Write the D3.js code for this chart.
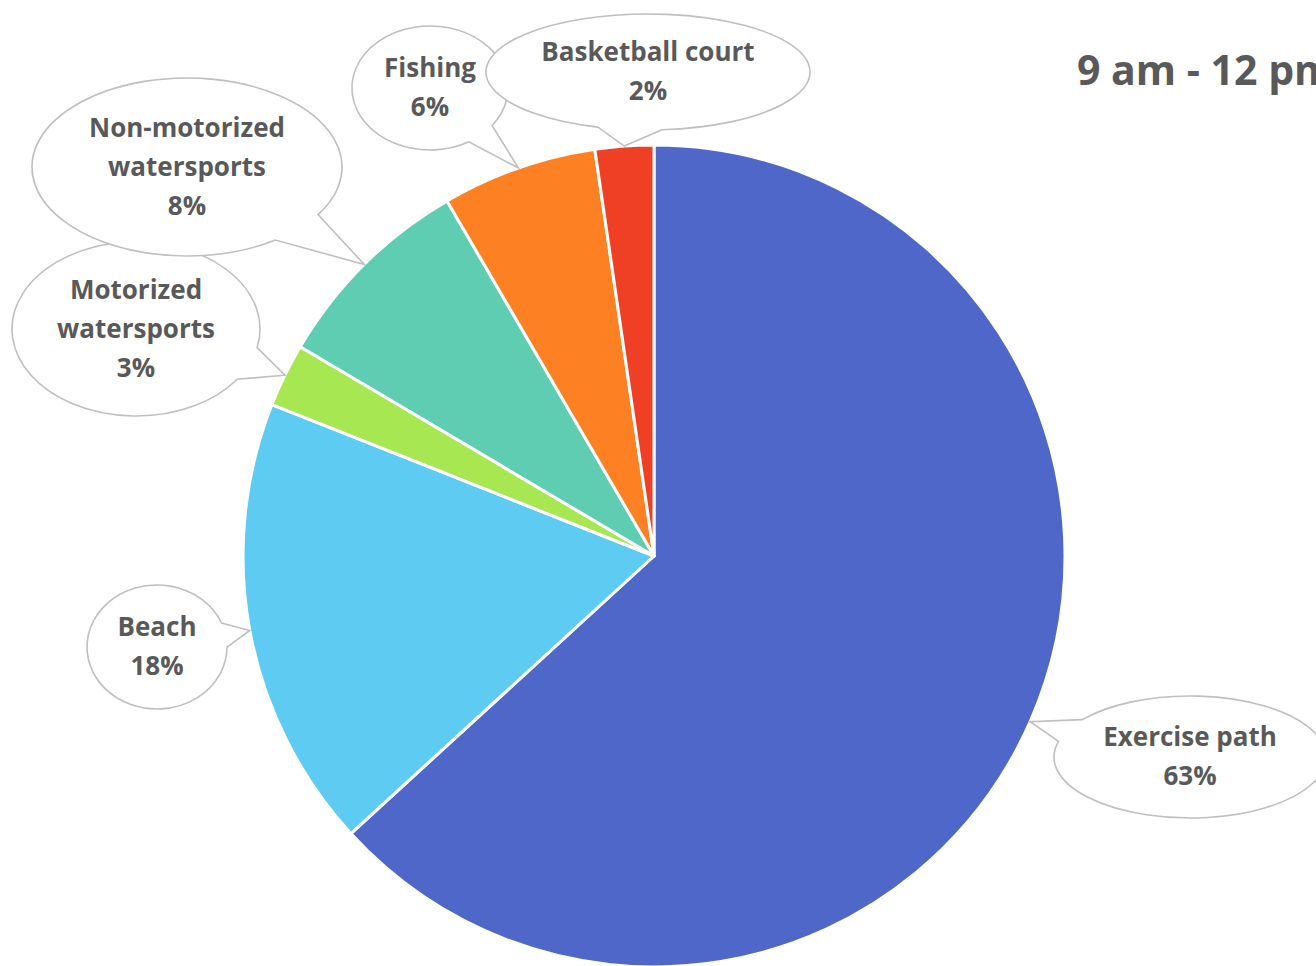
<!DOCTYPE html>
<html><head><meta charset="utf-8">
<script src="https://cdn.jsdelivr.net/npm/d3@7"></script>
<style>html,body{margin:0;padding:0;background:#fff;overflow:hidden}</style>
</head><body>
<svg id="chart" width="1316" height="966"></svg>
<script>
// ---- data ----
const categories = ["Exercise path", "Beach", "Motorized\nwatersports", "Non-motorized\nwatersports", "Fishing", "Basketball court"];
const values = [63.2, 17.8, 2.5, 8.1, 6.1, 2.3];
const pctLabels = ["63%", "18%", "3%", "8%", "6%", "2%"];
const colors = ["#4f67c8", "#5ecbf2", "#a6e752", "#5ecdb1", "#fd8122", "#ef4026"];
const title = "9 am - 12 pm";

// ---- layout (bubble ellipses: cx, cy, rx, ry) ----
const bubbles = [
  [1190, 757, 136, 61],
  [157, 647, 70, 62],
  [136, 329, 124, 87],
  [187, 167, 155, 89],
  [430, 88, 78, 62],
  [648, 72, 162, 58]
];

const svg = d3.select("#chart");
const cx = 654, cy = 556, R = 411;
const FONT = "'Open Sans', 'Noto Sans', sans-serif";

const pie = d3.pie().sort(null).value(d => d.v).startAngle(0);
const data = categories.map((c, i) => ({c, v: values[i], p: pctLabels[i], col: colors[i], b: bubbles[i]}));
const arcs = pie(data);
const arc = d3.arc().innerRadius(0).outerRadius(R);
const edge = d3.arc().innerRadius(R).outerRadius(R);

const g = svg.append("g").attr("transform", `translate(${cx},${cy})`);
g.selectAll("path.slice").data(arcs).join("path")
  .attr("class", "slice")
  .attr("d", arc)
  .attr("fill", d => d.data.col)
  .attr("stroke", "#fff")
  .attr("stroke-width", 3)
  .attr("stroke-linejoin", "round");

// ---- callouts ----
const lab = svg.append("g");
arcs.forEach(d => {
  const [bx, by, rx, ry] = d.data.b;
  const m = (d.startAngle + d.endAngle) / 2;
  const tip = edge.centroid({startAngle: m, endAngle: m});
  const tx = tip[0] + cx, ty = tip[1] + cy;
  const t = Math.atan2((ty - by) / ry, (tx - bx) / rx);
  const del = 0.2;
  const p1 = [bx + rx * Math.cos(t - del), by + ry * Math.sin(t - del)];
  const p2 = [bx + rx * Math.cos(t + del), by + ry * Math.sin(t + del)];
  const path = `M${p1[0]},${p1[1]}L${tx},${ty}L${p2[0]},${p2[1]}A${rx},${ry} 0 1 1 ${p1[0]},${p1[1]}Z`;
  const gg = lab.append("g");
  gg.append("path").attr("d", path).attr("fill", "#fff").attr("stroke", "#bfbfbf").attr("stroke-width", 1.6);
  const lines = d.data.c.split("\n").concat([d.data.p]);
  const lh = 39;
  const y0 = by - (lines.length - 1) * lh / 2;
  const text = gg.append("text")
    .attr("text-anchor", "middle")
    .attr("font-family", FONT)
    .attr("font-weight", 700)
    .attr("font-size", 26)
    .attr("fill", "#595959");
  lines.forEach((l, i) => {
    text.append("tspan").attr("x", bx).attr("y", y0 + i * lh).attr("dy", "0.34em").text(l);
  });
});

svg.append("text")
  .attr("x", 1077).attr("y", 85)
  .attr("font-family", FONT)
  .attr("font-weight", 700)
  .attr("font-size", 41)
  .attr("fill", "#595959")
  .text(title);
</script>
</body></html>
